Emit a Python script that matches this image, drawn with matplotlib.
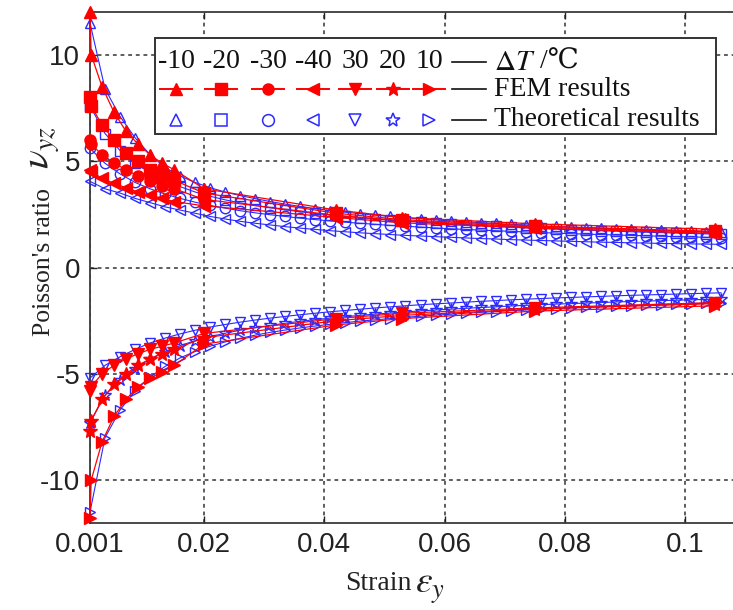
import matplotlib
matplotlib.use('Agg')
import matplotlib.pyplot as plt
from matplotlib.lines import Line2D
from matplotlib.patches import Rectangle

plt.rcParams.update({'font.family': ['Liberation Sans', 'DejaVu Sans'],
                     'mathtext.fontset': 'stix',
                     'axes.unicode_minus': False})

W, H = 733, 610

# temperature change of each curve and its marker
delta_T = ['-10', '-20', '-30', '-40', '30', '20', '10']
markers = ['^', 's', 'o', '<', 'v', '*', '>']

# theoretical results (blue, hollow)
strain_th = [0.001, 0.0035, 0.006, 0.0085, 0.011, 0.0135, 0.016, 0.0185, 0.021, 0.0235,
             0.026, 0.0285, 0.031, 0.0335, 0.036, 0.0385, 0.041, 0.0435, 0.046, 0.0485,
             0.051, 0.0535, 0.056, 0.0585, 0.061, 0.0635, 0.066, 0.0685, 0.071, 0.0735,
             0.076, 0.0785, 0.081, 0.0835, 0.086, 0.0885, 0.091, 0.0935, 0.096, 0.0985,
             0.101, 0.1035, 0.106]
th_m10 = [11.5, 8.4, 7.1, 6.1, 5.3, 4.7, 4.3, 4.0, 3.75, 3.55, 3.38, 3.24, 3.1, 2.98, 2.87,
          2.77, 2.68, 2.6, 2.53, 2.46, 2.4, 2.34, 2.29, 2.24, 2.19, 2.15, 2.11, 2.07, 2.03,
          2.0, 1.96, 1.93, 1.9, 1.87, 1.84, 1.82, 1.79, 1.77, 1.74, 1.72, 1.7, 1.68, 1.66]
th_m20 = [7.6, 6.3, 5.5, 4.9, 4.45, 4.1, 3.8, 3.55, 3.35, 3.18, 3.04, 2.92, 2.81, 2.71, 2.62,
          2.54, 2.47, 2.4, 2.34, 2.28, 2.23, 2.18, 2.13, 2.09, 2.05, 2.01, 1.97, 1.94, 1.9,
          1.87, 1.84, 1.81, 1.78, 1.76, 1.73, 1.71, 1.68, 1.66, 1.64, 1.62, 1.6, 1.58, 1.56]
th_m30 = [5.6, 4.9, 4.4, 4.0, 3.7, 3.45, 3.25, 3.07, 2.92, 2.79, 2.67, 2.57, 2.48, 2.4, 2.32,
          2.25, 2.19, 2.13, 2.08, 2.03, 1.98, 1.94, 1.9, 1.86, 1.82, 1.79, 1.76, 1.73, 1.7,
          1.67, 1.64, 1.62, 1.59, 1.57, 1.55, 1.53, 1.51, 1.49, 1.47, 1.45, 1.44, 1.42, 1.4]
th_m40 = [4.05, 3.7, 3.5, 3.25, 3.05, 2.85, 2.7, 2.55, 2.4, 2.28, 2.17, 2.08, 2.0, 1.92, 1.85,
          1.79, 1.73, 1.68, 1.63, 1.59, 1.55, 1.51, 1.48, 1.45, 1.42, 1.39, 1.36, 1.34, 1.31,
          1.29, 1.27, 1.25, 1.23, 1.21, 1.19, 1.18, 1.16, 1.15, 1.13, 1.12, 1.11, 1.1, 1.09]
th_p30 = [-5.2, -4.6, -4.2, -3.85, -3.55, -3.32, -3.12, -2.95, -2.8, -2.68, -2.57, -2.47, -2.38,
          -2.3, -2.22, -2.15, -2.08, -2.02, -1.96, -1.9, -1.85, -1.8, -1.75, -1.71, -1.67,
          -1.63, -1.59, -1.56, -1.52, -1.49, -1.46, -1.43, -1.41, -1.38, -1.36, -1.33, -1.31,
          -1.29, -1.27, -1.25, -1.23, -1.21, -1.19]
th_p20 = [-7.3, -6.0, -5.3, -4.75, -4.3, -3.95, -3.67, -3.44, -3.25, -3.09, -2.95, -2.83, -2.72,
          -2.62, -2.53, -2.45, -2.38, -2.31, -2.25, -2.19, -2.14, -2.09, -2.04, -2.0, -1.96,
          -1.92, -1.88, -1.85, -1.81, -1.78, -1.75, -1.72, -1.7, -1.67, -1.65, -1.62, -1.6,
          -1.58, -1.56, -1.54, -1.52, -1.5, -1.48]
th_p10 = [-11.5, -8.0, -6.7, -5.8, -5.15, -4.65, -4.25, -3.95, -3.7, -3.5, -3.33, -3.18, -3.05,
          -2.94, -2.84, -2.75, -2.67, -2.59, -2.52, -2.46, -2.4, -2.34, -2.29, -2.24, -2.2,
          -2.15, -2.11, -2.07, -2.03, -2.0, -1.96, -1.93, -1.9, -1.87, -1.84, -1.82, -1.79,
          -1.77, -1.74, -1.72, -1.7, -1.68, -1.66]

# FEM results (red, filled)
strain_fem = [0.001, 0.0012, 0.003, 0.005, 0.007, 0.009, 0.011, 0.013, 0.015, 0.02,
              0.042, 0.053, 0.075, 0.105]
fem_m10 = [12.0, 10.0, 8.5, 7.3, 6.4, 5.8, 5.3, 4.9, 4.6, 3.7, 2.7, 2.35, 2.05, 1.8]
fem_m20 = [8.0, 7.6, 6.7, 6.0, 5.4, 5.0, 4.6, 4.3, 4.1, 3.5, 2.55, 2.25, 1.95, 1.7]
fem_m30 = [6.0, 5.8, 5.3, 4.9, 4.6, 4.3, 4.05, 3.85, 3.7, 3.2, 2.45, 2.2, 1.9, 1.65]
fem_m40 = [4.6, 4.5, 4.2, 3.95, 3.75, 3.55, 3.4, 3.25, 3.1, 2.9, 2.35, 2.1, 1.85, 1.6]
fem_p30 = [-5.8, -5.6, -5.0, -4.6, -4.3, -4.05, -3.85, -3.7, -3.55, -3.1, -2.4, -2.15, -1.9, -1.65]
fem_p20 = [-7.7, -7.2, -6.2, -5.5, -5.0, -4.6, -4.3, -4.05, -3.85, -3.3, -2.5, -2.25, -1.95, -1.7]
fem_p10 = [-11.8, -10.0, -8.2, -7.0, -6.2, -5.6, -5.2, -4.9, -4.6, -3.6, -2.7, -2.4, -2.05, -1.8]

theory = [th_m10, th_m20, th_m30, th_m40, th_p30, th_p20, th_p10]
fem = [fem_m10, fem_m20, fem_m30, fem_m40, fem_p30, fem_p20, fem_p10]

RED = '#ff0000'
BLUE = '#2a2aff'
SERIF = ['Liberation Serif', 'DejaVu Serif', 'Noto Sans CJK SC']

fig = plt.figure(figsize=(W / 100, H / 100), dpi=100)
ax = fig.add_axes([90 / W, (H - 522.7) / H, (W - 90) / W, (522.7 - 12.3) / H])


def fx(px):
    return px / W


def fy(py):
    return 1 - py / H


for ys, m in zip(theory, markers):
    ax.plot(strain_th, ys, color=BLUE, lw=0.8, marker=m, ms=9 if m == '*' else 7.5,
            mfc='none', mec=BLUE, mew=1.0, clip_on=False, zorder=3)
for ys, m in zip(fem, markers):
    ax.plot(strain_fem, ys, color=RED, lw=0.9, marker=m, ms=10 if m == '*' else 8,
            mfc=RED, mec=RED, clip_on=False, zorder=4)

ax.set_xlim(0.001, 0.108)
ax.set_ylim(-12, 12)
ax.set_xticks([0.001, 0.02, 0.04, 0.06, 0.08, 0.1])
ax.set_xticklabels(['0.001', '0.02', '0.04', '0.06', '0.08', '0.1'])
ax.set_yticks([-10, -5, 0, 5, 10])
ax.set_yticklabels(['-10', '-5', '0', '5', '10'])
ax.tick_params(direction='in', length=5, width=1, top=True, right=False,
               labelsize=20, colors='#222222')
ax.tick_params(axis='x', pad=7)
ax.tick_params(axis='y', pad=7)
ax.grid(True, color='#333333', lw=1.1, linestyle=(0, (2.5, 2.5)))
ax.set_axisbelow(True)
for side in ['left', 'bottom', 'top']:
    ax.spines[side].set_color('#3a3a3a')
    ax.spines[side].set_linewidth(1.3)
ax.spines['right'].set_visible(False)

# axis labels
fig.text(fx(44), fy(262), "Poisson's ratio", rotation=90, ha='center', va='center',
         fontsize=18.5, family=SERIF, color='#222222')
fig.text(fx(44), fy(148), r'$\nu_{yz}$', rotation=90, ha='center', va='center',
         fontsize=28, color='#222222')
fig.text(fx(378), fy(584), 'Strain', ha='center', va='center', fontsize=20,
         family=SERIF, color='#222222')
fig.text(fx(415), fy(588), r'$\varepsilon_y$', ha='left', va='center', fontsize=27,
         color='#222222')

# legend box drawn by hand
fig.add_artist(Rectangle((fx(155), fy(134)), fx(716) - fx(155), fy(38) - fy(134),
                         transform=fig.transFigure, facecolor='white', edgecolor='#333333',
                         lw=1.4, zorder=10))
col_x = [176, 221, 268, 313, 355, 393, 429]
row_y = [62, 89, 120]
for cx, lab, m in zip(col_x, delta_T, markers):
    fig.text(fx(cx), fy(row_y[0]), lab, ha='center', va='center', fontsize=20,
             family=SERIF, color='#111111', zorder=11)
    fig.add_artist(Line2D([fx(cx - 16), fx(cx + 16)], [fy(row_y[1])] * 2, color=RED, lw=1.4,
                          transform=fig.transFigure, zorder=11))
    fig.add_artist(Line2D([fx(cx)], [fy(row_y[1])], marker=m, ms=10 if m == '*' else 8,
                          color=RED, transform=fig.transFigure, zorder=12))
    fig.add_artist(Line2D([fx(cx)], [fy(row_y[2])], marker=m, ms=10 if m == '*' else 8.5,
                          mfc='none', mec=BLUE, mew=1.1, transform=fig.transFigure, zorder=12))
for ry in row_y:
    fig.add_artist(Line2D([fx(452), fx(486)], [fy(ry)] * 2, color='#111111', lw=1.2,
                          transform=fig.transFigure, zorder=11))
fig.text(fx(494), fy(row_y[0]), r'$\Delta T$', ha='left', va='center', fontsize=21,
         color='#111111', zorder=11)
fig.text(fx(540), fy(row_y[0]), '/℃', ha='left', va='center', fontsize=20,
         family=SERIF, color='#111111', zorder=11)
fig.text(fx(494), fy(row_y[1]), 'FEM results', ha='left', va='center', fontsize=20,
         family=SERIF, color='#111111', zorder=11)
fig.text(fx(494), fy(row_y[2]), 'Theoretical results', ha='left', va='center', fontsize=20,
         family=SERIF, color='#111111', zorder=11)

fig.savefig('out.png', dpi=100)
